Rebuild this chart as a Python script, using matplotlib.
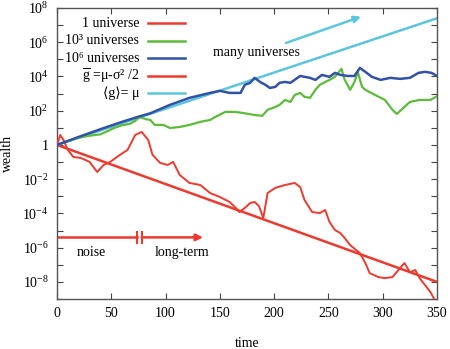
import numpy as np
import matplotlib
matplotlib.use("Agg")
import matplotlib.pyplot as plt
from matplotlib.ticker import FixedLocator, FuncFormatter

plt.rcParams['font.family'] = ['Liberation Serif', 'DejaVu Serif']
plt.rcParams['mathtext.fontset'] = 'custom'
plt.rcParams['mathtext.rm'] = 'Liberation Serif'
plt.rcParams['mathtext.it'] = 'Liberation Serif:italic'
plt.rcParams['mathtext.bf'] = 'Liberation Serif:bold'

# ---- data (log10 of wealth) ----
t_one = [0, 3, 6, 10, 15, 22, 30, 37, 43, 49, 54, 58, 65, 72, 78, 84, 88, 95, 102, 107,
         113, 122, 132, 141, 150, 159, 164, 168, 173, 178, 182, 186, 190, 194, 201, 210,
         219, 224, 228, 235, 242, 247, 251, 256, 261, 265, 270, 279, 284, 288, 296, 302,
         309, 316, 320, 325, 330, 334, 339, 344, 348]
log_one = [0, 0.58, 0.29, -0.29, -0.70, -0.76, -0.99, -1.58, -1.17, -0.99, -0.76, -0.58,
           -0.29, 0.58, 0.76, 0.29, -0.58, -1.05, -1.17, -0.99, -1.75, -2.22, -2.34, -2.81,
           -3.04, -3.33, -3.63, -3.92, -3.68, -3.39, -3.33, -3.57, -4.27, -2.81, -2.51,
           -2.34, -2.22, -2.46, -3.22, -3.92, -3.98, -3.80, -4.50, -4.97, -5.15, -5.44,
           -5.85, -6.32, -6.90, -7.49, -7.72, -7.78, -7.72, -7.19, -6.90, -7.43, -7.31,
           -7.78, -8.19, -8.60, -9.06]

t_k = [0, 10, 20, 28, 35, 40, 47, 53, 60, 67, 72, 76, 82, 86, 90, 98, 104, 113, 122, 132,
       141, 146, 155, 164, 171, 182, 189, 194, 201, 205, 210, 215, 219, 224, 228, 233, 238,
       242, 247, 251, 256, 262, 265, 270, 274, 277, 281, 284, 293, 302, 309, 313, 320, 325,
       334, 344, 350]
log_k = [0, 0.22, 0.42, 0.52, 0.58, 0.62, 0.82, 1.0, 1.15, 1.23, 1.4, 1.64, 1.5, 1.46, 1.17,
         1.17, 0.99, 1.05, 1.17, 1.35, 1.46, 1.64, 1.93, 1.93, 1.87, 1.75, 1.70, 2.05, 2.22,
         2.34, 2.63, 2.51, 2.92, 3.04, 2.81, 2.75, 3.22, 3.51, 3.68, 3.80, 3.98, 4.45, 3.80,
         3.22, 3.68, 4.27, 3.39, 3.22, 2.92, 2.63, 2.05, 1.81, 2.22, 2.51, 2.63, 2.63, 2.85]

t_m = [0, 20, 40, 60, 75, 86, 104, 122, 141, 150, 159, 169, 173, 178, 182, 187, 192, 196,
       201, 205, 210, 215, 224, 228, 233, 238, 244, 251, 256, 261, 268, 274, 279, 284, 290,
       298, 307, 316, 325, 333, 339, 345, 350]
log_m = [0, 0.47, 0.92, 1.35, 1.65, 1.85, 2.34, 2.75, 3.04, 3.16, 3.04, 3.04, 3.51, 3.63,
         3.92, 3.68, 3.51, 3.33, 3.39, 3.63, 3.68, 3.63, 4.03, 3.98, 3.92, 3.80, 4.09, 3.98,
         4.21, 4.09, 4.03, 4.03, 4.50, 4.27, 3.98, 3.80, 3.92, 3.86, 3.92, 4.21, 4.27, 4.21,
         4.03]

t_line = [0, 350]
log_gbar = [0, -8.0]
log_avg = [0, 7.4]

labels = ['1 universe', '10³ universes', '10⁶ universes',
          r'$\overline{\mathrm{g}}$ =μ-σ² /2', '⟨g⟩= μ']

red = '#ee3a2e'
green = '#5dbb3c'
blue = '#3252a8'
cyan = '#5cc6dc'
colors = [red, green, blue, red, cyan]

fig = plt.figure(figsize=(4.5, 3.49), dpi=100)
ax = fig.add_axes([57/450, 50/349, 380/450, 291/349])

def p(v):
    return np.power(10.0, v)

ax.plot(t_line, p(log_avg), color=cyan, lw=1.8, zorder=2)
ax.plot(t_k, p(log_k), color=green, lw=1.6, zorder=3)
ax.plot(t_m, p(log_m), color=blue, lw=1.8, zorder=4)
ax.plot(t_line, p(log_gbar), color=red, lw=1.8, zorder=2)
ax.plot(t_one, p(log_one), color=red, lw=1.4, zorder=3)

ax.set_yscale('log')
ax.set_xlim(0, 350)
ax.set_ylim(1e-9, 1e8)
ax.xaxis.set_major_locator(FixedLocator([0, 50, 100, 150, 200, 250, 300, 350]))
ax.yaxis.set_major_locator(FixedLocator([10.0**k for k in range(-9, 9)]))
ax.yaxis.set_minor_locator(FixedLocator([]))

def yfmt(v, pos):
    k = int(round(np.log10(v)))
    if k % 2:
        return ''
    if k == 0:
        return '1'
    return '10$^{%d}$' % k
ax.yaxis.set_major_formatter(FuncFormatter(yfmt))

ax.tick_params(direction='in', which='both', top=True, right=True, length=4,
               width=0.8, labelsize=10, color='#444444', pad=6)
for s in ax.spines.values():
    s.set_color('#555555')
    s.set_linewidth(1.0)

ax.set_xlabel('time', fontsize=10, labelpad=12)
ax.set_ylabel('wealth', fontsize=10, labelpad=6)

# legend drawn gnuplot-style (text right, sample on the right)
ly = [0.948, 0.887, 0.828, 0.766, 0.708]
for lab, c, yy in zip(labels, colors, ly):
    ax.text(0.216, yy, lab, transform=ax.transAxes, ha='right', va='center', fontsize=10)
    ax.plot([0.239, 0.337], [yy, yy], transform=ax.transAxes, color=c, lw=1.8)

# annotations
ax.text(184, p(5.38), 'many universes', ha='center', va='center', fontsize=10)
ax.annotate('', xy=(280, p(7.49)), xytext=(211, p(5.96)),
            arrowprops=dict(arrowstyle='-|>', color=cyan, lw=1.8, mutation_scale=10,
                            shrinkA=0, shrinkB=0))
ya = p(-5.4)
ax.plot([0, 73.9], [ya, ya], color=red, lw=1.8)
ax.annotate('', xy=(134.5, ya), xytext=(78, ya),
            arrowprops=dict(arrowstyle='-|>', color=red, lw=1.8, mutation_scale=10,
                            shrinkA=0, shrinkB=0))
for xb in (73.9, 78):
    ax.plot([xb, xb], [p(-5.72), p(-5.08)], color=red, lw=1.5)
ax.text(32, p(-6.3), 'noise', ha='center', va='center', fontsize=10)
ax.text(115, p(-6.3), 'long-term', ha='center', va='center', fontsize=10)

fig.savefig('out.png', dpi=100)
